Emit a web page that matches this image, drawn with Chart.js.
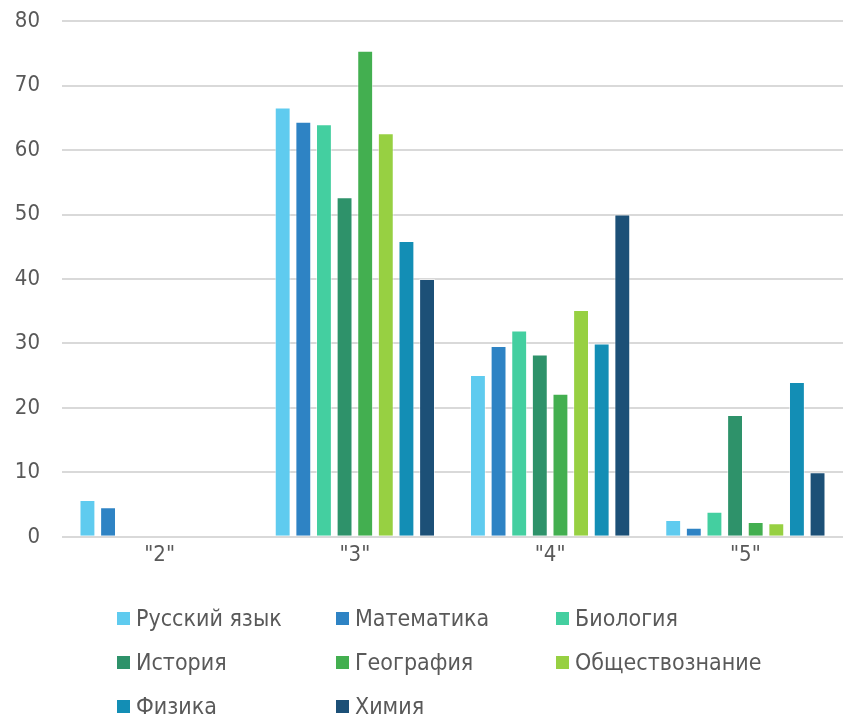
<!DOCTYPE html>
<html>
<head>
<meta charset="utf-8">
<script src="https://cdn.jsdelivr.net/npm/chart.js@4.4.0/dist/chart.umd.min.js"></script>
<style>
  html, body { margin: 0; padding: 0; background: #ffffff; }
  #wrap { position: relative; width: 843px; height: 718px; overflow: hidden; }
  #chartBox { position: absolute; left: 0; top: -14px; width: 843px; height: 586px; }
  #legend { position: absolute; left: 0; top: 0; width: 843px; height: 718px; pointer-events: none; }
  .li { position: absolute; display: flex; align-items: center; font-family: "DejaVu Sans Condensed", "DejaVu Sans", sans-serif; font-size: 23px; color: #595959; white-space: nowrap; line-height: 1; }
  .sw { width: 13px; height: 13px; margin-right: 6px; flex: none; }
</style>
</head>
<body>
<div id="wrap">
  <div id="chartBox"><canvas id="c"></canvas></div>
  <div id="legend"></div>
</div>
<script>
const categories = ['"2"', '"3"', '"4"', '"5"'];
const seriesNames = ['Русский язык', 'Математика', 'Биология', 'История', 'География', 'Обществознание', 'Физика', 'Химия'];
const seriesColors = ['#5FCBEF', '#2E83C4', '#44CFA0', '#2E926A', '#43AF50', '#97D042', '#138EB5', '#1C5077'];
const russian   = [5.7, 66.6, 25.1, 2.6];
const math      = [4.6, 64.4, 29.6, 1.4];
const biology   = [0, 64.0, 32.0, 3.9];
const history   = [0, 52.7, 28.3, 18.9];
const geography = [0, 75.4, 22.2, 2.3];
const social    = [0, 62.6, 35.2, 2.1];
const physics   = [0, 45.9, 30.0, 24.0];
const chemistry = [0, 40.0, 50.0, 10.0];
const yTicks = [0, 10, 20, 30, 40, 50, 60, 70, 80];

const seriesValues = [russian, math, biology, history, geography, social, physics, chemistry];
const FONT = '"DejaVu Sans Condensed", "DejaVu Sans", sans-serif';

const datasets = seriesNames.map((name, i) => ({
  label: name,
  data: seriesValues[i],
  backgroundColor: seriesColors[i],
  borderColor: 'rgba(255,255,255,0.5)',
  borderWidth: 1,
  categoryPercentage: 0.845,
  barPercentage: 0.77
}));

new Chart(document.getElementById('c'), {
  type: 'bar',
  data: { labels: categories, datasets },
  options: {
    responsive: true,
    maintainAspectRatio: false,
    animation: false,
    layout: { padding: { top: 8, left: 0, right: 0, bottom: 0 } },
    plugins: { legend: { display: false }, tooltip: { enabled: false } },
    scales: {
      x: {
        grid: { display: false },
        border: { display: false },
        ticks: { color: '#595959', font: { family: FONT, size: 22 }, padding: -3 }
      },
      y: {
        min: 0, max: 80,
        afterBuildTicks: (axis) => { axis.ticks = yTicks.map(v => ({ value: v })); },
        afterFit: (axis) => { axis.width = 62; },
        grid: { color: '#d9d9d9', lineWidth: 2, drawTicks: false },
        border: { display: false },
        ticks: { color: '#595959', font: { family: FONT, size: 22 }, padding: 22 }
      }
    }
  }
});

// HTML legend in three columns
const legend = document.getElementById('legend');
const colX = [117, 336, 556];
const rowY = [619, 663, 707];
seriesNames.forEach((name, i) => {
  const d = document.createElement('div');
  d.className = 'li';
  d.style.left = colX[i % 3] + 'px';
  d.style.top = (rowY[Math.floor(i / 3)] - 12) + 'px';
  d.innerHTML = '<span class="sw" style="background:' + seriesColors[i] + '"></span><span>' + name + '</span>';
  legend.appendChild(d);
});
</script>
</body>
</html>
